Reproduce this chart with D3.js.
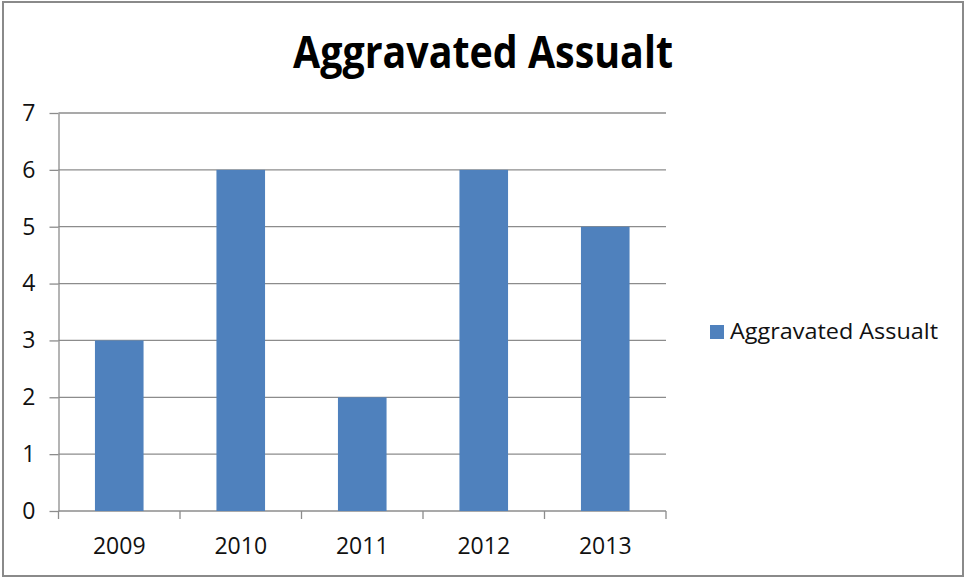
<!DOCTYPE html>
<meta charset="utf-8">
<html>
<head>
  <script src="https://d3js.org/d3.v7.min.js" charset="utf-8"></script>
</head>
<style>
* {
    font-family: "Open Sans", sans-serif;
}
body {
    margin: 0;
    background-color: white;
}
.bar {
    fill: #4f81bd;
}
.grid line {
    stroke: #8c8c8c;
    stroke-width: 1.3;
}
.axis path, .axis line {
    stroke: #8c8c8c;
    stroke-width: 1.3;
}
.axis text {
    font-size: 23px;
    fill: #111;
}
#title {
    text-anchor: middle;
    font-size: 45px;
    font-weight: bold;
}
</style>
<body>
<div id="container"></div>
<script type="text/javascript">

var years = ["2009", "2010", "2011", "2012", "2013"];
var counts = [3, 6, 2, 6, 5];
var yTicks = [0, 1, 2, 3, 4, 5, 6, 7];
var seriesName = "Aggravated Assualt";

var width = 966;
var height = 578;
var margin = {left: 58.5, top: 113, bottom: 67, right: 300};

var svg = d3.select("#container")
            .append("svg")
            .attr("width", width)
            .attr("height", height)

// outer frame
svg.append("rect")
   .attr("x", 3)
   .attr("y", 2)
   .attr("width", 960)
   .attr("height", 574)
   .attr("fill", "white")
   .attr("stroke", "#8a8a8a")
   .attr("stroke-width", 2)

var xScale = d3.scaleBand()
               .domain(years)
               .range([margin.left, width - margin.right])
               .paddingInner(0.6)
               .paddingOuter(0.3)

var yScale = d3.scaleLinear()
               .domain([0, 7])
               .range([height - margin.bottom, margin.top])

// horizontal gridlines
svg.append("g")
   .attr("class", "grid")
   .selectAll("line")
   .data(yTicks.filter(d => d > 0))
   .enter()
   .append("line")
   .attr("x1", margin.left)
   .attr("x2", width - margin.right)
   .attr("y1", d => yScale(d))
   .attr("y2", d => yScale(d))

var yAxis = d3.axisLeft(yScale)
              .tickValues(yTicks)
              .tickFormat(d3.format("d"))
              .tickSize(9)
              .tickSizeOuter(0)
              .tickPadding(14)

svg.append("g")
   .attr("class", "axis")
   .attr("transform", "translate(" + margin.left + ",0)")
   .call(yAxis)

// category boundaries for x ticks
var step = xScale.step();
var bounds = d3.range(years.length + 1).map(i => margin.left + i * step);

var xAxisG = svg.append("g")
   .attr("class", "axis")
   .attr("transform", "translate(0," + yScale(0) + ")")

xAxisG.append("line")
   .attr("x1", margin.left)
   .attr("x2", width - margin.right)

xAxisG.selectAll(".tk")
   .data(bounds)
   .enter()
   .append("line")
   .attr("class", "tk")
   .attr("x1", d => d)
   .attr("x2", d => d)
   .attr("y1", 0)
   .attr("y2", 8)

xAxisG.selectAll("text")
   .data(years)
   .enter()
   .append("text")
   .attr("x", d => xScale(d) + xScale.bandwidth() / 2)
   .attr("y", 43)
   .attr("text-anchor", "middle")
   .text(d => d)

svg.selectAll(".bar")
   .data(counts)
   .enter()
   .append("rect")
   .attr("class", "bar")
   .attr("x", (d, i) => xScale(years[i]))
   .attr("y", d => yScale(d))
   .attr("width", xScale.bandwidth())
   .attr("height", d => yScale(0) - yScale(d))

svg.append("text")
   .attr("id", "title")
   .attr("x", 483)
   .attr("y", 68)
   .attr("textLength", 380)
   .attr("lengthAdjust", "spacingAndGlyphs")
   .text(seriesName)

// legend
var legend = svg.append("g")
   .attr("transform", "translate(710,325)")

legend.append("rect")
   .attr("width", 14)
   .attr("height", 14)
   .attr("class", "bar")

legend.append("text")
   .attr("x", 20)
   .attr("y", 14)
   .attr("font-size", 22)
   .attr("fill", "#111")
   .attr("textLength", 208)
   .attr("lengthAdjust", "spacingAndGlyphs")
   .text(seriesName)

</script>
</body>
</html>
